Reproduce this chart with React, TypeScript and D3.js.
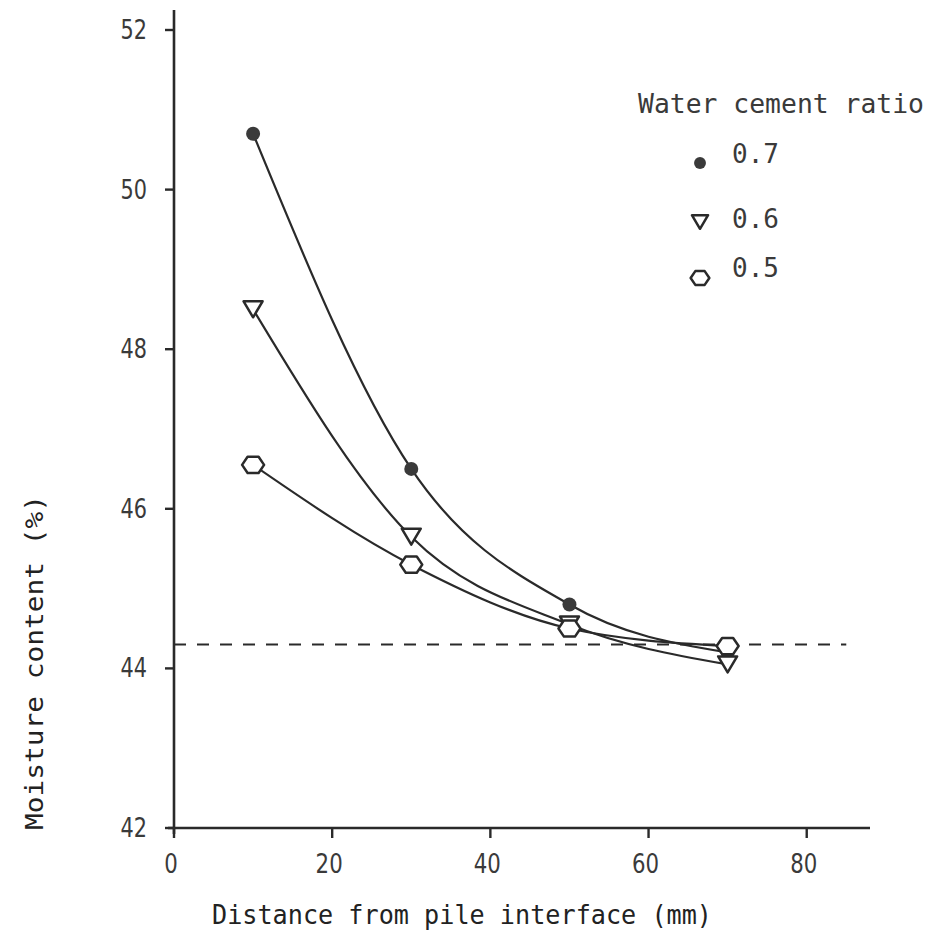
import React from "react";
import * as d3 from "d3";

const distances = [10, 30, 50, 70];
const seriesNames = ["0.7", "0.6", "0.5"];
const moisture07 = [50.7, 46.5, 44.8, 44.2];
const moisture06 = [48.5, 45.65, 44.55, 44.05];
const moisture05 = [46.55, 45.3, 44.5, 44.28];
const referenceMoisture = 44.3;
const referenceEnd = 85;
const xTicks = [0, 20, 40, 60, 80];
const yTicks = [42, 44, 46, 48, 50, 52];
const xTitle = "Distance from pile interface (mm)";
const yTitle = "Moisture content (%)";
const legendTitle = "Water cement ratio";

const W = 931;
const H = 931;
const x = d3.scaleLinear().domain([0, 88]).range([174, 870]);
const y = d3.scaleLinear().domain([42, 52]).range([828, 30]);
const yTop = 52.25;

const INK = "#2a2a2a";
const MONO = "'DejaVu Sans Mono', 'Liberation Mono', monospace";
const SANS = "'DejaVu Sans', 'Liberation Sans', sans-serif";

type Kind = "dot" | "tri" | "hex";

function Marker({ kind, cx, cy, s = 1 }: { kind: Kind; cx: number; cy: number; s?: number }) {
  if (kind === "dot") {
    return <circle cx={cx} cy={cy} r={7 * s} fill="#3a3a3a" />;
  }
  if (kind === "tri") {
    const w = 9.5 * s;
    const h = 8 * s;
    const pts = [
      [cx - w, cy - h],
      [cx + w, cy - h],
      [cx, cy + h],
    ];
    return (
      <polygon
        points={pts.map((p) => p.join(",")).join(" ")}
        fill="white"
        stroke={INK}
        strokeWidth={2.5}
        strokeLinejoin="round"
      />
    );
  }
  const r = 11 * s;
  const pts = d3.range(6).map((i) => {
    const a = (Math.PI / 3) * i;
    return [cx + r * Math.cos(a), cy + r * 0.85 * Math.sin(a)];
  });
  return (
    <polygon
      points={pts.map((p) => p.join(",")).join(" ")}
      fill="white"
      stroke={INK}
      strokeWidth={2.5}
      strokeLinejoin="round"
    />
  );
}

export default function App() {
  const series: { name: string; values: number[]; kind: Kind }[] = [
    { name: seriesNames[0], values: moisture07, kind: "dot" },
    { name: seriesNames[1], values: moisture06, kind: "tri" },
    { name: seriesNames[2], values: moisture05, kind: "hex" },
  ];
  const gen = d3
    .line<[number, number]>()
    .x((d) => x(d[0]))
    .y((d) => y(d[1]))
    .curve(d3.curveMonotoneX);

  const legendY = [163, 222, 278];
  const legendTextY = [163, 228, 277];

  return (
    <svg
      width={W}
      height={H}
      style={{ position: "absolute", left: 0, top: 0, background: "white", display: "block" }}
    >
      {/* reference dashed line */}
      <line
        x1={x(0)}
        x2={x(referenceEnd)}
        y1={y(referenceMoisture)}
        y2={y(referenceMoisture)}
        stroke={INK}
        strokeWidth={2}
        strokeDasharray="12,11"
      />

      {/* axes */}
      <line x1={x(0)} x2={x(0)} y1={y(42) + 6} y2={y(yTop)} stroke={INK} strokeWidth={2.6} />
      <line x1={x(0) - 6} x2={x.range()[1]} y1={y(42)} y2={y(42)} stroke={INK} strokeWidth={2.6} />

      {yTicks.map((t) => (
        <g key={"y" + t}>
          <line x1={x(0) - 9} x2={x(0)} y1={y(t)} y2={y(t)} stroke={INK} strokeWidth={2.4} />
          <text
            transform={`translate(147, ${y(t) + 9}) scale(0.8,1)`}
            textAnchor="end"
            fontFamily={SANS}
            fontSize={26}
            fill="#3a3a3a"
          >
            {t}
          </text>
        </g>
      ))}

      {xTicks.map((t) => (
        <g key={"x" + t}>
          <line x1={x(t)} x2={x(t)} y1={y(42)} y2={y(42) + 10} stroke={INK} strokeWidth={2.4} />
          <text
            transform={`translate(${x(t) - 3}, 873) scale(0.82,1)`}
            textAnchor="middle"
            fontFamily={SANS}
            fontSize={26}
            fill="#3a3a3a"
          >
            {t}
          </text>
        </g>
      ))}

      {/* axis titles */}
      <text
        x={212}
        y={924}
        fontFamily={MONO}
        fontSize={27}
        textLength={500}
        lengthAdjust="spacingAndGlyphs"
        fill="#222"
      >
        {xTitle}
      </text>
      <text
        transform={`translate(43, 830) rotate(-90)`}
        fontFamily={MONO}
        fontSize={25}
        textLength={335}
        lengthAdjust="spacingAndGlyphs"
        fill="#222"
      >
        {yTitle}
      </text>

      {/* curves */}
      {series.map((s) => (
        <path
          key={"l" + s.name}
          d={gen(distances.map((d, i) => [d, s.values[i]] as [number, number])) || ""}
          fill="none"
          stroke={INK}
          strokeWidth={2.2}
        />
      ))}

      {/* markers */}
      {series.map((s) =>
        distances.map((d, i) => (
          <Marker key={s.name + d} kind={s.kind} cx={x(d)} cy={y(s.values[i])} />
        ))
      )}

      {/* legend */}
      <text
        x={638}
        y={113}
        fontFamily={MONO}
        fontSize={26}
        textLength={286}
        lengthAdjust="spacingAndGlyphs"
        fill="#3a3a3a"
      >
        {legendTitle}
      </text>
      {series.map((s, i) => (
        <g key={"lg" + s.name}>
          <Marker kind={s.kind} cx={700} cy={legendY[i]} s={0.85} />
          <text x={732} y={legendTextY[i]} fontFamily={MONO} fontSize={26} fill="#3a3a3a">
            {s.name}
          </text>
        </g>
      ))}
    </svg>
  );
}
